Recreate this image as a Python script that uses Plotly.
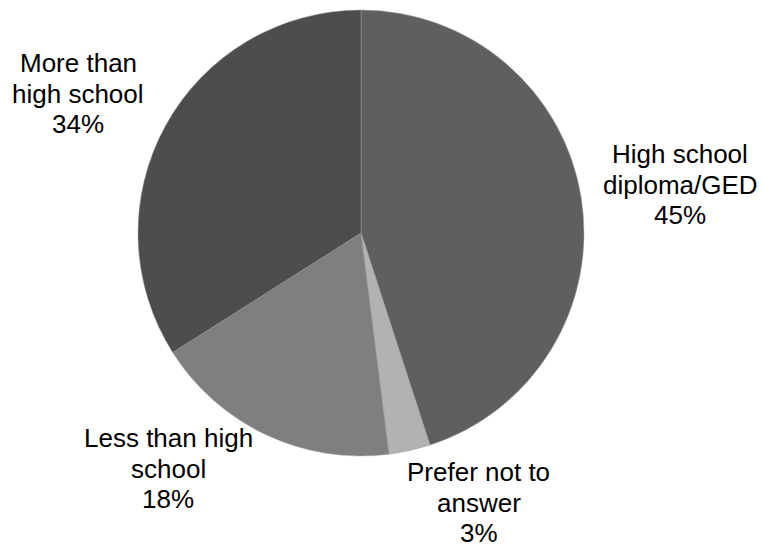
import plotly.graph_objects as go

categories = ["High school diploma/GED", "Prefer not to answer", "Less than high school", "More than high school"]
values = [45, 3, 18, 34]
label_lines = [
    ["High school", "diploma/GED", "45%"],
    ["Prefer not to", "answer", "3%"],
    ["Less than high", "school", "18%"],
    ["More than", "high school", "34%"],
]
colors = ["#5f5f5f", "#b2b2b2", "#7f7f7f", "#4d4d4d"]

W, H = 762, 548
cx, cy, r = 361, 233, 223

fig = go.Figure(go.Pie(
    labels=categories, values=values, sort=False, direction="clockwise", rotation=0,
    marker=dict(colors=colors, line=dict(color="#9a9a9a", width=0.5)),
    textinfo="none", hoverinfo="label+percent", showlegend=False,
    domain=dict(x=[(cx - r) / W, (cx + r) / W], y=[1 - (cy + r) / H, 1 - (cy - r) / H]),
))

# (center x, first baseline y, line gap) in page pixels
label_pos = [(680, 163, 30.5), (479, 481, 30.5), (168, 447, 30.5), (78, 72, 30.5)]
fs = 26
for lines, (x, y0, gap) in zip(label_lines, label_pos):
    for i, txt in enumerate(lines):
        yb = y0 + i * gap
        yc = yb - 0.33 * fs
        fig.add_annotation(x=x / W, y=1 - yc / H, xref="paper", yref="paper", text=txt,
                           showarrow=False, xanchor="center", yanchor="middle", align="center",
                           font=dict(family="Liberation Sans, Arial", size=fs, color="#000000"))

fig.update_layout(width=W, height=H, margin=dict(l=0, r=0, t=0, b=0),
                  paper_bgcolor="white", plot_bgcolor="white")
fig.write_html("out.html", config={"displayModeBar": False},
               post_script="document.body.style.margin='0';")
